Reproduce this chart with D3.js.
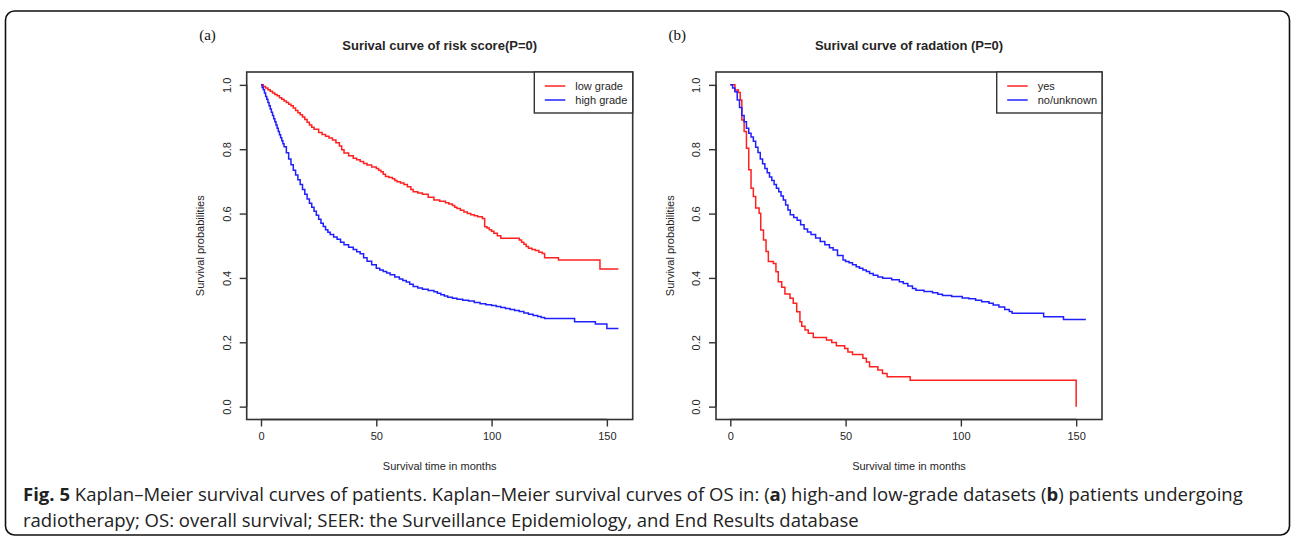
<!DOCTYPE html>
<html>
<head>
<meta charset="utf-8">
<script src="https://cdn.jsdelivr.net/npm/d3@7"></script>
<style>
  body { margin: 0; background: #fff; }
  svg { display: block; }
</style>
</head>
<body>
<svg id="chart" width="1292" height="542"></svg>
<script>
const WIDTH = 1292;
const HEIGHT = 542;

// panel (a): risk score
const lowGradeTime = [0, 1, 2, 3, 4, 5, 6, 7, 8, 9, 10, 11, 12, 13, 14, 15, 16, 17, 18, 19, 20, 21, 22, 23, 25, 26.5, 28, 29.5, 31, 32.5, 34, 35, 36, 38, 40, 41.5, 43, 44.5, 46, 48, 50, 51, 52, 53, 54, 55.5, 57, 58, 59, 60.5, 62, 63.5, 65, 66, 68, 70, 72.5, 75, 77.5, 80, 81.5, 83, 84, 85, 86.5, 88, 89.5, 91, 92.5, 94, 96, 97, 98, 99, 100, 101, 102.5, 104, 112, 113, 114, 115, 116, 117.5, 119, 120.5, 122, 123, 129, 147, 155];
const lowGradeSurv = [1, 0.995, 0.99, 0.985, 0.98, 0.975, 0.97, 0.966, 0.96, 0.955, 0.95, 0.945, 0.94, 0.935, 0.928, 0.92, 0.913, 0.907, 0.9, 0.892, 0.884, 0.875, 0.868, 0.862, 0.852, 0.846, 0.84, 0.835, 0.829, 0.82, 0.81, 0.798, 0.788, 0.78, 0.772, 0.767, 0.762, 0.756, 0.751, 0.745, 0.74, 0.735, 0.73, 0.722, 0.715, 0.712, 0.708, 0.703, 0.699, 0.695, 0.69, 0.683, 0.675, 0.668, 0.664, 0.66, 0.651, 0.642, 0.638, 0.634, 0.63, 0.625, 0.62, 0.616, 0.61, 0.605, 0.6, 0.596, 0.593, 0.59, 0.585, 0.559, 0.555, 0.55, 0.545, 0.539, 0.531, 0.523, 0.518, 0.511, 0.505, 0.498, 0.492, 0.488, 0.485, 0.48, 0.476, 0.463, 0.456, 0.428, 0.428];
const highGradeTime = [0, 0.5, 1, 1.5, 2, 2.5, 3, 3.5, 4, 4.5, 5, 5.5, 6, 6.5, 7, 7.5, 8, 8.5, 9, 9.5, 10, 11, 12, 13, 14, 15, 16, 17, 18, 19, 20, 21, 22, 23, 24, 25, 26, 27, 28, 29, 30, 31.5, 33, 34.5, 36, 38, 40, 41.5, 43, 44.5, 46, 48, 50, 51.5, 53, 54.5, 56, 58, 60, 61.5, 63, 64.5, 66, 68, 70, 72.5, 75, 76.5, 78, 79.5, 81, 83, 85, 87.5, 90, 92.5, 95, 97.5, 100, 102, 104, 106, 108, 110, 112, 114, 116, 118, 120, 121.5, 123, 136, 145, 150, 155];
const highGradeSurv = [1, 0.992, 0.985, 0.975, 0.964, 0.955, 0.945, 0.935, 0.925, 0.915, 0.905, 0.895, 0.885, 0.875, 0.865, 0.855, 0.845, 0.836, 0.826, 0.817, 0.808, 0.789, 0.77, 0.752, 0.735, 0.72, 0.705, 0.69, 0.675, 0.66, 0.645, 0.632, 0.62, 0.607, 0.595, 0.582, 0.57, 0.56, 0.55, 0.542, 0.535, 0.527, 0.52, 0.511, 0.503, 0.495, 0.488, 0.481, 0.475, 0.463, 0.452, 0.441, 0.43, 0.425, 0.42, 0.415, 0.41, 0.403, 0.397, 0.392, 0.387, 0.38, 0.373, 0.369, 0.365, 0.361, 0.357, 0.352, 0.348, 0.344, 0.34, 0.337, 0.334, 0.331, 0.328, 0.324, 0.32, 0.317, 0.314, 0.311, 0.308, 0.305, 0.302, 0.299, 0.296, 0.291, 0.287, 0.283, 0.28, 0.277, 0.274, 0.264, 0.257, 0.243, 0.243];

// panel (b): radiation
const yesTime = [0, 2, 3.5, 4.3, 5, 6, 7, 8, 9, 10, 11, 12.5, 13.2, 14.4, 15.5, 16.5, 18.7, 19.8, 20.8, 22.3, 23.7, 25.9, 27.3, 28.8, 30.2, 31, 32.4, 33.8, 36, 41.7, 44, 46, 49.6, 51, 53, 57.5, 59, 60.4, 64, 66, 68, 78, 150, 150];
const yesSurv = [1, 0.984, 0.976, 0.953, 0.891, 0.855, 0.803, 0.736, 0.679, 0.653, 0.617, 0.601, 0.549, 0.518, 0.482, 0.451, 0.445, 0.419, 0.388, 0.371, 0.35, 0.337, 0.321, 0.295, 0.264, 0.25, 0.238, 0.228, 0.215, 0.207, 0.199, 0.189, 0.181, 0.17, 0.162, 0.15, 0.139, 0.124, 0.114, 0.103, 0.093, 0.082, 0.082, 0];
const noTime = [0, 1, 2, 3, 4, 5, 6, 7, 8, 9, 10, 11, 12, 13, 14, 15, 16, 17, 18, 19, 20, 21, 22, 23, 24, 25, 26, 27.5, 29, 30.5, 32, 33.5, 35, 37, 39, 41, 43, 44.6, 46.5, 48.9, 50, 51.5, 53, 54.6, 56, 57.5, 59, 60.4, 62, 64, 66.1, 70, 73.3, 75, 77, 79, 80.5, 84, 87.7, 90, 92, 96, 100.6, 103.5, 106.4, 109, 112.2, 114, 116.5, 119, 121, 122.2, 135.9, 144.5, 154.2];
const noSurv = [1, 0.99, 0.979, 0.953, 0.93, 0.905, 0.885, 0.865, 0.85, 0.838, 0.825, 0.806, 0.79, 0.77, 0.755, 0.74, 0.727, 0.714, 0.703, 0.69, 0.679, 0.668, 0.655, 0.642, 0.627, 0.611, 0.596, 0.588, 0.579, 0.565, 0.552, 0.543, 0.535, 0.524, 0.513, 0.503, 0.494, 0.487, 0.47, 0.456, 0.451, 0.447, 0.441, 0.435, 0.43, 0.425, 0.42, 0.414, 0.408, 0.403, 0.399, 0.394, 0.388, 0.383, 0.375, 0.367, 0.362, 0.358, 0.354, 0.349, 0.345, 0.342, 0.338, 0.335, 0.331, 0.326, 0.321, 0.316, 0.31, 0.302, 0.296, 0.29, 0.279, 0.271, 0.271];

const xTicks = [0, 50, 100, 150];
const yTicks = [0, 0.2, 0.4, 0.6, 0.8, 1.0];

const RED = '#ff2020';
const BLUE = '#2020ff';
const INK = '#262626';

const panels = [
  {
    tag: '(a)',
    title: 'Surival curve of risk score(P=0)',
    left: 246.7,
    series: [
      { name: 'low grade', time: lowGradeTime, surv: lowGradeSurv, color: RED },
      { name: 'high grade', time: highGradeTime, surv: highGradeSurv, color: BLUE },
    ],
    legendWidth: 98.4,
  },
  {
    tag: '(b)',
    title: 'Surival curve of radation (P=0)',
    left: 716,
    series: [
      { name: 'yes', time: yesTime, surv: yesSurv, color: RED },
      { name: 'no/unknown', time: noTime, surv: noSurv, color: BLUE },
    ],
    legendWidth: 105.3,
  },
];

const svg = d3.select('#chart');
svg.append('rect').attr('width', WIDTH).attr('height', HEIGHT).attr('fill', '#fff');

// outer rounded frame
svg.append('rect')
  .attr('x', 5.5).attr('y', 11)
  .attr('width', 1284).attr('height', 524)
  .attr('rx', 9)
  .attr('fill', 'none')
  .attr('stroke', '#111')
  .attr('stroke-width', 1.6);

const PLOT_W = 386;
const PLOT_TOP = 72;
const PLOT_BOTTOM = 419.5;

panels.forEach((p) => {
  const x = d3.scaleLinear().domain([-6.2, 161.2]).range([p.left, p.left + PLOT_W]);
  const y = d3.scaleLinear().domain([-0.04, 1.04]).range([PLOT_BOTTOM, PLOT_TOP]);
  const g = svg.append('g');

  // panel tag
  g.append('text')
    .attr('x', p.left - 47.5).attr('y', 40)
    .text(p.tag)
    .style('font-family', '"Liberation Serif", "DejaVu Serif", serif')
    .style('font-size', '15px')
    .style('fill', '#111');

  // title
  g.append('text')
    .attr('x', p.left + PLOT_W / 2).attr('y', 49.5)
    .attr('text-anchor', 'middle')
    .text(p.title)
    .style('font-family', '"Liberation Sans", Arial, sans-serif')
    .style('font-weight', 'bold')
    .style('font-size', '13px')
    .style('fill', INK);

  // curves
  const line = d3.line()
    .x((d) => x(d[0]))
    .y((d) => y(d[1]))
    .curve(d3.curveStepAfter);
  p.series.forEach((s) => {
    g.append('path')
      .datum(s.time.map((t, i) => [t, s.surv[i]]))
      .attr('d', line)
      .attr('fill', 'none')
      .attr('stroke', s.color)
      .attr('stroke-width', 1.5);
  });

  // plot box
  g.append('rect')
    .attr('x', p.left).attr('y', PLOT_TOP)
    .attr('width', PLOT_W).attr('height', PLOT_BOTTOM - PLOT_TOP)
    .attr('fill', 'none')
    .attr('stroke', '#333')
    .attr('stroke-width', 1.6);

  // x axis
  const xAxis = g.append('g')
    .attr('transform', `translate(0,${PLOT_BOTTOM})`)
    .call(d3.axisBottom(x).tickValues(xTicks).tickSize(7).tickPadding(6).tickSizeOuter(0));
  xAxis.select('.domain').attr('d', `M${x(0)},0H${x(150)}`);
  xAxis.selectAll('line, path').attr('stroke', '#333').attr('stroke-width', 1.4);
  xAxis.selectAll('text')
    .style('font-family', '"Liberation Sans", Arial, sans-serif')
    .style('font-size', '11px')
    .style('fill', INK);

  // y axis, labels parallel to the axis as in base R
  const yAxis = g.append('g')
    .attr('transform', `translate(${p.left},0)`)
    .call(d3.axisLeft(y).tickValues(yTicks).tickFormat(d3.format('.1f')).tickSize(7).tickSizeOuter(0));
  yAxis.select('.domain').attr('d', `M0,${y(0)}V${y(1)}`);
  yAxis.selectAll('line, path').attr('stroke', '#333').attr('stroke-width', 1.4);
  yAxis.selectAll('.tick text')
    .attr('x', 0).attr('dy', null)
    .attr('text-anchor', 'middle')
    .attr('transform', 'translate(-16,0) rotate(-90)')
    .style('font-family', '"Liberation Sans", Arial, sans-serif')
    .style('font-size', '11px')
    .style('fill', INK);

  // axis titles
  g.append('text')
    .attr('x', p.left + PLOT_W / 2).attr('y', 470)
    .attr('text-anchor', 'middle')
    .text('Survival time in months')
    .style('font-family', '"Liberation Sans", Arial, sans-serif')
    .style('font-size', '11px')
    .style('fill', INK);
  g.append('text')
    .attr('transform', `translate(${p.left - 42.5},${y(0.5)}) rotate(-90)`)
    .attr('text-anchor', 'middle')
    .text('Survival probabilities')
    .style('font-family', '"Liberation Sans", Arial, sans-serif')
    .style('font-size', '11px')
    .style('fill', INK);

  // legend
  const lx = p.left + PLOT_W - p.legendWidth;
  const legend = g.append('g');
  legend.append('rect')
    .attr('x', lx).attr('y', PLOT_TOP)
    .attr('width', p.legendWidth).attr('height', 41)
    .attr('fill', '#fff')
    .attr('stroke', '#333')
    .attr('stroke-width', 1.4);
  p.series.forEach((s, i) => {
    const ly = 86 + i * 14;
    legend.append('line')
      .attr('x1', lx + 10.5).attr('x2', lx + 31)
      .attr('y1', ly).attr('y2', ly)
      .attr('stroke', s.color)
      .attr('stroke-width', 1.5);
    legend.append('text')
      .attr('x', lx + 41).attr('y', ly)
      .attr('dy', '0.35em')
      .text(s.name)
      .style('font-family', '"Liberation Sans", Arial, sans-serif')
      .style('font-size', '11px')
      .style('fill', INK);
  });
});

// caption
const captionLines = [
  [
    { t: 'Fig. 5', b: true }, { t: ' Kaplan–Meier survival curves of patients. Kaplan–Meier survival curves of OS in: (' },
    { t: 'a', b: true }, { t: ') high-and low-grade datasets (' }, { t: 'b', b: true }, { t: ') patients undergoing' },
  ],
  [
    { t: 'radiotherapy; OS: overall survival; SEER: the Surveillance Epidemiology, and End Results database' },
  ],
];

const caption = svg.append('g')
  .style('font-family', '"Open Sans", "Noto Sans", sans-serif')
  .style('font-size', '16px')
  .style('fill', '#222');

const captionText = captionLines.map((parts, i) => {
  const text = caption.append('text')
    .attr('x', 23)
    .attr('y', 501 + i * 25.5);
  parts.forEach((part) => {
    text.append('tspan')
      .text(part.t)
      .style('font-weight', part.b ? 'bold' : 'normal');
  });
  return text;
});

// scale caption so the first line fills the same width as in the figure
const firstWidth = captionText[0].node().getComputedTextLength();
const captionSize = 16 * (1221 / firstWidth);
caption.style('font-size', `${captionSize}px`);
</script>
</body>
</html>
